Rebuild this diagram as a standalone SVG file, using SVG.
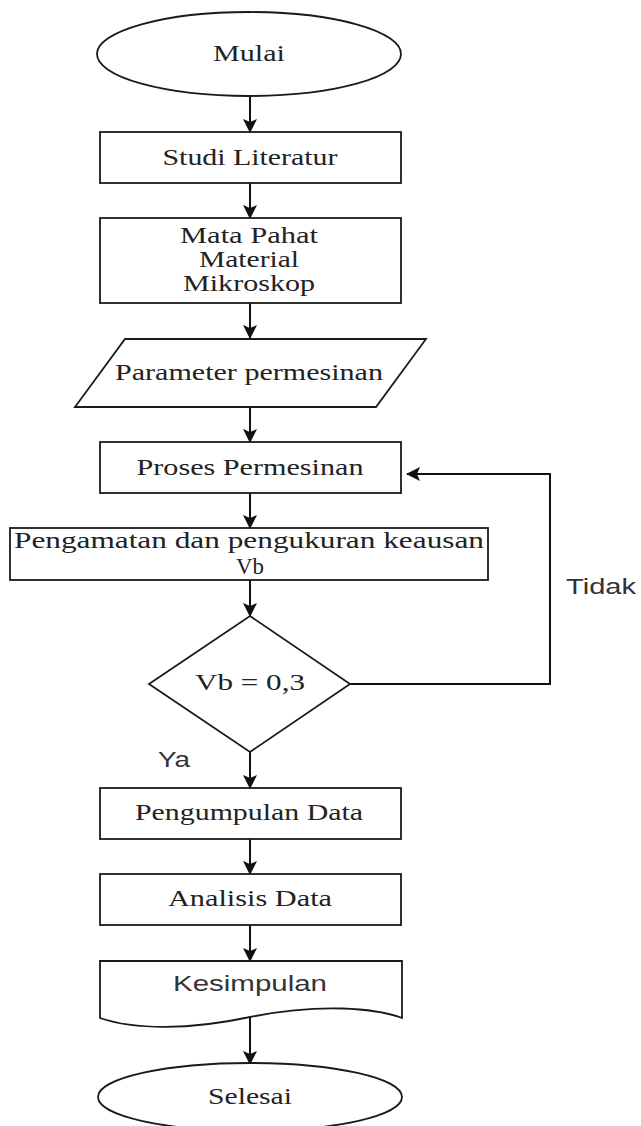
<svg xmlns="http://www.w3.org/2000/svg" width="641" height="1126" viewBox="0 0 641 1126">
<defs>
<style>
.s{fill:#fff;stroke:#1a1a1a;stroke-width:1.8}
.t{font-family:"Liberation Serif",serif;font-size:23px;fill:#222;text-anchor:middle}
.a{font-family:"Liberation Sans",sans-serif;font-size:22px;fill:#333;text-anchor:middle}
.c{fill:none;stroke:#111;stroke-width:2}
</style>
<marker id="ah" markerUnits="userSpaceOnUse" markerWidth="14" markerHeight="14" viewBox="0 0 14 14" refX="13" refY="7" orient="auto">
<path d="M0,0 L14,7 L0,14 L3,7 Z" fill="#111"/>
</marker>
</defs>
<g id="connectors">
<line class="c" x1="250" y1="96" x2="250" y2="132" marker-end="url(#ah)"/>
<line class="c" x1="250" y1="183" x2="250" y2="218" marker-end="url(#ah)"/>
<line class="c" x1="250" y1="303" x2="250" y2="338" marker-end="url(#ah)"/>
<line class="c" x1="250" y1="407" x2="250" y2="442" marker-end="url(#ah)"/>
<line class="c" x1="250" y1="493" x2="250" y2="528" marker-end="url(#ah)"/>
<line class="c" x1="250" y1="580" x2="250" y2="616" marker-end="url(#ah)"/>
<line class="c" x1="250" y1="752" x2="250" y2="788" marker-end="url(#ah)"/>
<line class="c" x1="250" y1="839" x2="250" y2="874" marker-end="url(#ah)"/>
<line class="c" x1="250" y1="925" x2="250" y2="961" marker-end="url(#ah)"/>
<line class="c" x1="250" y1="1016" x2="250" y2="1064" marker-end="url(#ah)"/>
<polyline class="c" points="350,684 550,684 550,474 407,474" marker-end="url(#ah)"/>
<text class="a" x="601" y="594" textLength="70" lengthAdjust="spacingAndGlyphs">Tidak</text>
<text class="a" x="174" y="767" textLength="32" lengthAdjust="spacingAndGlyphs">Ya</text>
</g>
<g id="mulai">
<ellipse class="s" cx="249" cy="54" rx="152" ry="42"/>
<text class="t" x="249" y="61" textLength="72" lengthAdjust="spacingAndGlyphs">Mulai</text>
</g>
<g id="studi">
<rect class="s" x="100" y="132" width="301" height="51"/>
<text class="t" x="250" y="165" textLength="175" lengthAdjust="spacingAndGlyphs">Studi Literatur</text>
</g>
<g id="alat">
<rect class="s" x="100" y="218" width="301" height="85"/>
<text class="t" x="249" y="243" textLength="138" lengthAdjust="spacingAndGlyphs">Mata Pahat</text>
<text class="t" x="249" y="267" textLength="100" lengthAdjust="spacingAndGlyphs">Material</text>
<text class="t" x="249" y="291" textLength="132" lengthAdjust="spacingAndGlyphs">Mikroskop</text>
</g>
<g id="parameter">
<polygon class="s" points="125,339 426,339 376,407 75,407"/>
<text class="t" x="249" y="380" textLength="268" lengthAdjust="spacingAndGlyphs">Parameter permesinan</text>
</g>
<g id="proses">
<rect class="s" x="100" y="442" width="301" height="51"/>
<text class="t" x="250" y="475" textLength="227" lengthAdjust="spacingAndGlyphs">Proses Permesinan</text>
</g>
<g id="pengamatan">
<rect class="s" x="10" y="528" width="478" height="52"/>
<text class="t" x="249" y="548" textLength="470" lengthAdjust="spacingAndGlyphs">Pengamatan dan pengukuran keausan</text>
<text class="t" x="250" y="574" textLength="28" lengthAdjust="spacingAndGlyphs">Vb</text>
</g>
<g id="keputusan">
<polygon class="s" points="250,616 350,684 250,752 149,684"/>
<text class="t" x="250" y="690" textLength="110" lengthAdjust="spacingAndGlyphs">Vb = 0,3</text>
</g>
<g id="pengumpulan">
<rect class="s" x="100" y="788" width="301" height="51"/>
<text class="t" x="249" y="820" textLength="228" lengthAdjust="spacingAndGlyphs">Pengumpulan Data</text>
</g>
<g id="analisis">
<rect class="s" x="100" y="874" width="301" height="51"/>
<text class="t" x="250" y="906" textLength="164" lengthAdjust="spacingAndGlyphs">Analisis Data</text>
</g>
<g id="kesimpulan">
<path class="s" d="M100,961 H402 V1018 C375,1008 320,1003 250,1017 C190,1030 135,1030 100,1018 Z"/>
<text class="a" x="250" y="991" textLength="154" lengthAdjust="spacingAndGlyphs">Kesimpulan</text>
</g>
<g id="selesai">
<ellipse class="s" cx="250" cy="1097" rx="152" ry="34"/>
<text class="t" x="250" y="1104" textLength="84" lengthAdjust="spacingAndGlyphs">Selesai</text>
</g>
</svg>
